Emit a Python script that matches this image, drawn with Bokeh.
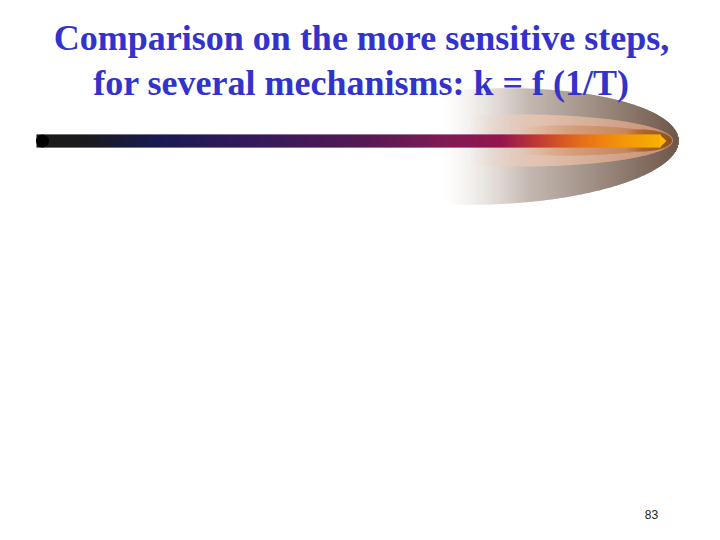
import numpy as np
from bokeh.plotting import figure
from bokeh.models import Range1d, ColumnDataSource
from bokeh.core.properties import value
from bokeh.embed import file_html
from bokeh.resources import INLINE

# ---- slide content ----
title_lines = ["Comparison on the more sensitive steps,",
               "for several mechanisms: k = f (1/T)"]
page_number = ["83"]

# ---- decoration specs (page pixel coordinates) ----
bar_stops_x = [36, 85, 157, 260, 360, 440, 500, 540, 580, 615, 655]
bar_stops_c = ["#000000", "#000005", "#000040", "#200048", "#400040",
               "#700040", "#8b0040", "#c03028", "#e86a10", "#f89000", "#ffb800"]


def hex2rgb(h):
    h = h.lstrip("#")
    return np.array([int(h[i:i + 2], 16) for i in (0, 2, 4)], dtype=float)


def rgb2hex(c):
    c = np.clip(np.round(c), 0, 255).astype(int)
    return "#%02x%02x%02x" % tuple(c)


def interp_color(x, xs, cs):
    rgbs = np.array([hex2rgb(c) for c in cs])
    return rgb2hex(np.array([np.interp(x, xs, rgbs[:, k]) for k in range(3)]))


p = figure(width=704, height=524, output_backend="svg", toolbar_location=None,
           x_range=Range1d(0, 704), y_range=Range1d(524, 0), min_border=0)
p.axis.visible = False
p.grid.visible = False
p.outline_line_color = None
p.background_fill_color = "white"
p.border_fill_color = "white"


def gradient_ellipse(cx, cy, a, b, x0, c0, c1, power=1.0, tilt=0.0, ramp=3.0):
    xs = np.arange(max(x0, cx - a), cx + a, 1.0)
    t = np.clip((xs - x0) / (cx + a - x0), 0, 1) ** power
    h = b * np.sqrt(np.clip(1 - ((xs + 0.5 - cx) / a) ** 2, 0, 1))
    yc = cy + tilt * (xs - cx)
    r0, r1 = hex2rgb(c0), hex2rgb(c1)
    cols = [rgb2hex(r0 + (r1 - r0) * tt) for tt in t]
    alph = np.clip(t * ramp, 0, 1)
    src = ColumnDataSource(dict(left=xs, right=xs + 1.3, top=yc - h, bottom=yc + h,
                                c=cols, a=alph))
    p.quad(left="left", right="right", top="top", bottom="bottom", source=src,
           fill_color="c", fill_alpha="a", line_color=None)


# outer swoosh
gradient_ellipse(488, 146, 190, 58, 440, "#ece6e2", "#5e4434", power=1.1, tilt=-0.03)
# inner peach band
gradient_ellipse(520, 140, 152, 26, 470, "#f2ddd0", "#cf9474", power=1.0)
# darker band
gradient_ellipse(565, 140, 106, 15, 520, "#e2b294", "#b87040", power=1.0)
# tip ring
gradient_ellipse(640, 140, 31, 11, 625, "#c07030", "#8a4c18", power=1.0)

# gradient bar
bx = np.arange(36, 660, 1.0)
bcols = [interp_color(x, bar_stops_x, bar_stops_c) for x in bx]
bsrc = ColumnDataSource(dict(left=bx, right=bx + 1.3, c=bcols))
p.quad(left="left", right="right", top=134, bottom=147, source=bsrc,
       fill_color="c", line_color=None)
p.circle(x=[42], y=[140.5], radius=6.5, fill_color="#000000", line_color=None)
p.patch(x=[659, 666, 659], y=[134, 140.5, 147], fill_color="#ffb800", line_color=None)

# title
p.text(x=[361, 361], y=[37, 82], text=title_lines, text_align="center",
       text_baseline="alphabetic", text_font=value("Liberation Serif"),
       text_font_style="bold", text_font_size="36px", text_color="#3333cc")

# page number
p.text(x=[651], y=[514], text=page_number, text_align="center",
       text_baseline="alphabetic", text_font=value("Liberation Sans"),
       text_font_size="12px", text_color="#222222")

open("out.html", "w").write(file_html(p, INLINE))
